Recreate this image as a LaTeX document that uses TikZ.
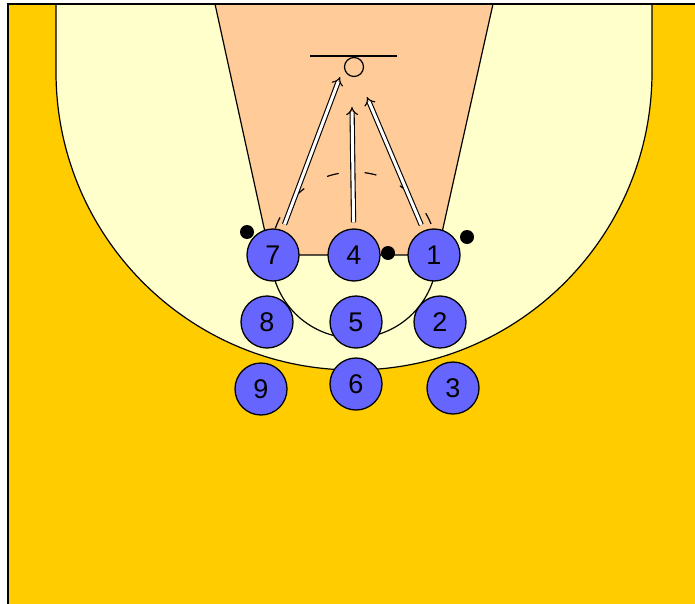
\documentclass[tikz,border=0pt]{standalone}
\usepackage{fontspec}
\setsansfont{Liberation Sans}
\usetikzlibrary{arrows.meta}
\definecolor{courtyellow}{HTML}{FFCC00}
\definecolor{arccream}{HTML}{FFFFCC}
\definecolor{lanepeach}{HTML}{FFCC99}
\definecolor{playerblue}{HTML}{6666FF}

\begin{document}
\begin{tikzpicture}[x=1pt, y=-1pt,
    player/.style={draw, circle, fill=playerblue, minimum size=52pt, inner sep=0pt, line width=1.3pt,
      font=\sffamily\fontsize{27}{27}\selectfont},
    ball/.style={circle, fill=black, minimum size=14pt, inner sep=0pt},
    cut/.style={double, double distance=3pt, line width=1.1pt, -{Implies[scale=1.4]}, shorten <=6pt}]
      \useasboundingbox (0,0) rectangle (695,604);

      % Court
      \fill[courtyellow] (8,4) rectangle (695,604);
      \filldraw[fill=arccream, line width=1.2pt] (56,4) -- (56,72) arc[start angle=180, end angle=0, radius=298] -- (652,4);
      \filldraw[fill=lanepeach, line width=1.2pt] (215,4) -- (270,255) -- (437,255) -- (493,4);
      \draw[line width=1.2pt] (271,255) arc[start angle=180, end angle=0, radius=83];
      \draw[line width=1.2pt, dash pattern=on 12pt off 26pt, dash phase=11pt] (271,255) arc[start angle=180, end angle=360, radius=83];
      \draw[line width=2.2pt] (8,604) -- (8,4) -- (695,4);

      % Basket
      \draw[line width=1.4pt] (310,56) -- (397,56);
      \node[draw, circle, fill=lanepeach, minimum size=19pt, inner sep=0pt, line width=1.2pt] (ring) at (354,67) {};
      \coordinate (aim7) at (340,77);
      \coordinate (aim4) at (352,107);
      \coordinate (aim1) at (367,97);

      % Players
      \node[player] (p7) at (273,255) {7};
      \node[player] (p4) at (354,255) {4};
      \node[player] (p1) at (434,255) {1};
      \node[player] (p8) at (267,322) {8};
      \node[player] (p5) at (356,322) {5};
      \node[player] (p2) at (440,322) {2};
      \node[player] (p9) at (261,389) {9};
      \node[player] (p6) at (356,384) {6};
      \node[player] (p3) at (453,388) {3};

      % Balls
      \node[ball] (b7) at (247,232) {};
      \node[ball] (b4) at (388,253) {};
      \node[ball] (b1) at (467,237) {};

      % Arrows
      \draw[cut] (p7) -- (aim7);
      \draw[cut] (p4) -- (aim4);
      \draw[cut] (p1) -- (aim1);
    \end{tikzpicture}
\end{document}
